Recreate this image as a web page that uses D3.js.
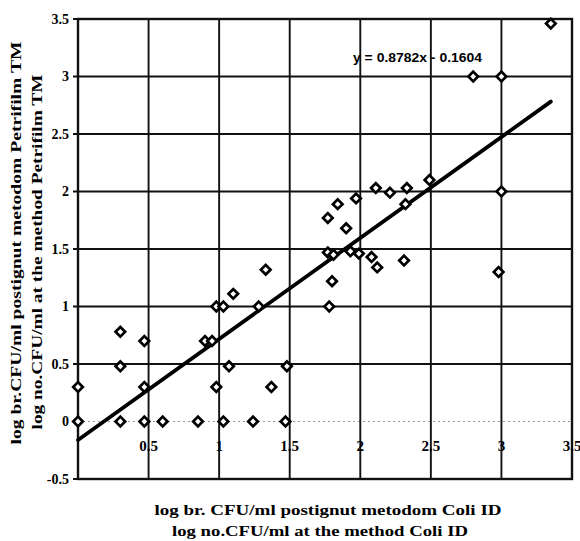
<!DOCTYPE html>
<html><head><meta charset="utf-8">
<script src="https://cdn.jsdelivr.net/npm/d3@7"></script>
<style>body{margin:0;background:#fff}svg{display:block}</style>
</head><body>
<svg id="c" width="580" height="541"></svg>
<script>
const xValues = [0,0,0.3,0.3,0.3,0.47,0.47,0.47,0.6,0.85,0.9,0.95,0.98,1.03,1.1,0.98,1.07,1.03,1.24,1.28,1.37,1.33,1.47,1.48,1.78,1.8,1.77,1.81,1.93,1.99,2.08,2.12,2.31,1.9,1.77,1.84,1.97,2.11,2.21,2.33,2.32,2.49,2.8,3.0,3.0,2.98,3.35];
const yValues = [0.3,0,0.78,0.48,0,0.7,0.3,0,0,0,0.7,0.7,1.0,1.0,1.11,0.3,0.48,0,0,1.0,0.3,1.32,0,0.48,1.0,1.22,1.47,1.45,1.48,1.46,1.43,1.34,1.4,1.68,1.77,1.89,1.94,2.03,1.99,2.03,1.89,2.1,3.0,3.0,2.0,1.3,3.46];
const xTicks = [0.5,1,1.5,2,2.5,3,3.5];
const xTickLabels = ["0.5","1","1.5","2","2.5","3","3.5"];
const yTicks = [-0.5,0,0.5,1,1.5,2,2.5,3,3.5];
const yTickLabels = ["-0.5","0","0.5","1","1.5","2","2.5","3","3.5"];
const trend = [0.8782, -0.1604];
const trendRange = [0, 3.35];
const equationText = "y = 0.8782x - 0.1604";
const xTitle = ["log br. CFU/ml postignut metodom Coli ID","log no.CFU/ml at the method Coli ID"];
const yTitle = ["log br.CFU/ml postignut metodom Petrifilm TM","log no.CFU/ml at the method Petrifilm TM"];

const svg = d3.select("#c");
const x = d3.scaleLinear().domain([0,3.5]).range([78,572]);
const y = d3.scaleLinear().domain([-0.5,3.5]).range([479,19]);
const serif = "'Liberation Serif','Times New Roman',serif";

// horizontal grid
svg.append("g").selectAll("line").data(yTicks).join("line")
  .attr("x1", d => d===0 ? x(0) : 73).attr("x2", x(3.5))
  .attr("y1", d => y(d)).attr("y2", d => y(d))
  .attr("stroke", d => d===0 ? "#999" : "#111")
  .attr("stroke-width", d => d===0 ? 1.2 : 1.9)
  .attr("stroke-dasharray", d => d===0 ? "2,3" : null);
// vertical grid
svg.append("g").selectAll("line").data(xTicks.filter(d=>d<3.5)).join("line")
  .attr("x1", d => x(d)).attr("x2", d => x(d))
  .attr("y1", y(3.5)).attr("y2", y(-0.5))
  .attr("stroke", "#111").attr("stroke-width", 1.9);
// frame
svg.append("rect").attr("x", x(0)).attr("y", y(3.5))
  .attr("width", x(3.5)-x(0)).attr("height", y(-0.5)-y(3.5))
  .attr("fill","none").attr("stroke","#111").attr("stroke-width",2.4);

// y tick labels
svg.append("g").selectAll("text").data(yTicks).join("text")
  .attr("x", 69).attr("y", d => y(d)).attr("dy","0.35em")
  .attr("text-anchor","end").attr("font-family",serif).attr("font-weight","bold")
  .attr("font-size",14).text((d,i)=>yTickLabels[i]);
// x tick labels
svg.append("g").selectAll("text").data(xTicks).join("text")
  .attr("x", d => x(d)).attr("y", 446).attr("dy","0.35em")
  .attr("text-anchor","middle").attr("font-family",serif).attr("font-weight","bold")
  .attr("font-size",15).text((d,i)=>xTickLabels[i]);

// trendline
svg.append("line")
  .attr("x1", x(trendRange[0])).attr("y1", y(trend[0]*trendRange[0]+trend[1]))
  .attr("x2", x(trendRange[1])).attr("y2", y(trend[0]*trendRange[1]+trend[1]))
  .attr("stroke","#000").attr("stroke-width",3.8).attr("stroke-linecap","round");

// markers
const sym = d3.symbol().type(d3.symbolSquare).size(46);
svg.append("g").selectAll("path").data(xValues).join("path")
  .attr("d", sym())
  .attr("transform", (d,i) => `translate(${x(d)},${y(yValues[i])}) rotate(45)`)
  .attr("fill","#fff").attr("stroke","#000").attr("stroke-width",2.7);

// equation
svg.append("text").attr("x",353).attr("y",58).attr("dy","0.35em")
  .attr("font-family","'Liberation Sans',Arial,sans-serif").attr("font-weight","bold")
  .attr("font-size",12).attr("textLength",129).attr("lengthAdjust","spacingAndGlyphs")
  .text(equationText);

// x title
svg.append("text").attr("x",328).attr("y",510).attr("dy","0.35em")
  .attr("text-anchor","middle").attr("font-family",serif).attr("font-weight","bold")
  .attr("font-size",15.5).attr("textLength",347).attr("lengthAdjust","spacingAndGlyphs").text(xTitle[0]);
svg.append("text").attr("x",320).attr("y",531).attr("dy","0.35em")
  .attr("text-anchor","middle").attr("font-family",serif).attr("font-weight","bold")
  .attr("font-size",15.5).attr("textLength",296).attr("lengthAdjust","spacingAndGlyphs").text(xTitle[1]);
// y title
svg.append("text").attr("transform","translate(16,243) rotate(-90)").attr("dy","0.35em")
  .attr("text-anchor","middle").attr("font-family",serif).attr("font-weight","bold")
  .attr("font-size",15.5).attr("textLength",403).attr("lengthAdjust","spacingAndGlyphs").text(yTitle[0]);
svg.append("text").attr("transform","translate(37,252) rotate(-90)").attr("dy","0.35em")
  .attr("text-anchor","middle").attr("font-family",serif).attr("font-weight","bold")
  .attr("font-size",15.5).attr("textLength",355).attr("lengthAdjust","spacingAndGlyphs").text(yTitle[1]);
</script>
</body></html>
